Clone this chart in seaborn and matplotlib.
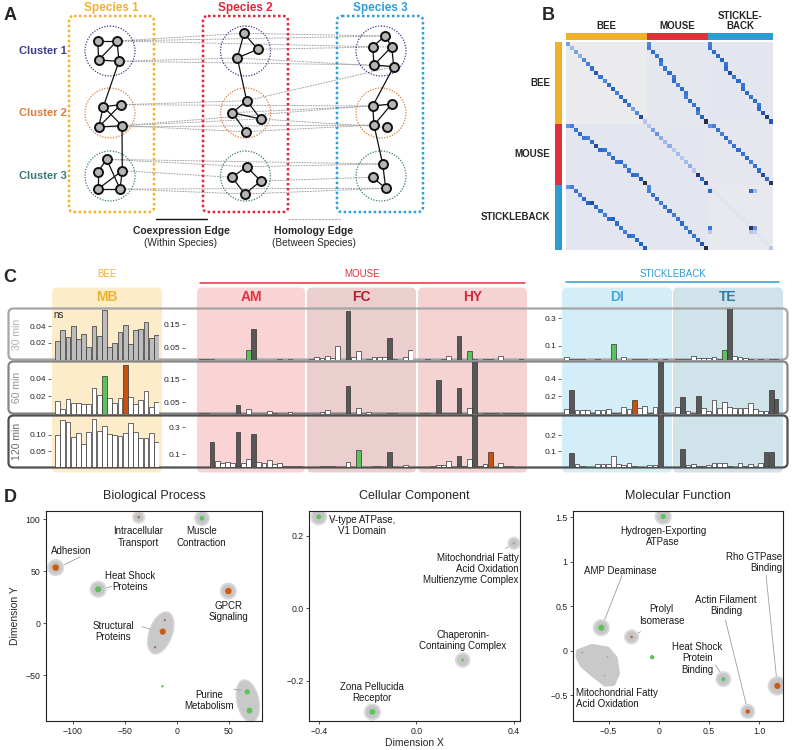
import numpy as np
import matplotlib
matplotlib.use("Agg")
import matplotlib.pyplot as plt
import seaborn as sns
from matplotlib.patches import FancyBboxPatch, Circle, Ellipse, Polygon
from matplotlib.colors import LinearSegmentedColormap

sns.set_style("white")
plt.rcParams['font.family'] = ['Liberation Sans', 'DejaVu Sans']
plt.rcParams['axes.unicode_minus'] = True

# ---------------- panel A : network sketch ----------------
species_names = ["Species 1", "Species 2", "Species 3"]
species_colors = ["#f2b327", "#e3263a", "#2f9fd8"]
cluster_names = ["Cluster 1", "Cluster 2", "Cluster 3"]
cluster_colors = ["#3c3c8c", "#df7a3a", "#3b7a73"]
cluster_cx = [110, 245.5, 381]
cluster_cy = [51, 113, 176]

# node positions per (species, cluster)
nodes = {
    (0, 0): [(97.7, 41), (117, 41), (98.7, 60), (119, 61.3)],
    (0, 1): [(103.3, 106.7), (120.7, 104.7), (98.7, 127), (122, 125.7)],
    (0, 2): [(106.7, 159.3), (98, 171.7), (98, 189), (120, 189), (122.3, 170.7)],
    (1, 0): [(244, 33.3), (257.7, 49.3), (237.3, 58)],
    (1, 1): [(246.7, 100.7), (232.3, 112.7), (260.7, 119), (245.7, 131.7)],
    (1, 2): [(246.7, 166.7), (232, 177.3), (260.7, 181), (245, 194)],
    (2, 0): [(385, 36), (372.7, 46.7), (391.7, 46.7), (374, 65), (393.7, 66.7)],
    (2, 1): [(372.7, 106), (391.7, 104), (374, 125), (386.7, 127.3)],
    (2, 2): [(382.7, 164), (372.7, 177.3), (385.7, 188.3)],
}
coexp_edges = {
    (0, 0): [(0, 1), (0, 2), (2, 3), (1, 3), (1, 2)],
    (0, 1): [(0, 1), (0, 2), (0, 3), (1, 2), (2, 3)],
    (0, 2): [(0, 1), (1, 2), (2, 3), (3, 4), (0, 3), (2, 4)],
    (1, 0): [(0, 1), (0, 2), (1, 2)],
    (1, 1): [(0, 1), (0, 2), (1, 2), (1, 3)],
    (1, 2): [(0, 1), (0, 2), (1, 3), (2, 3)],
    (2, 0): [(0, 1), (1, 3), (2, 3), (2, 4), (3, 4), (0, 2)],
    (2, 1): [(0, 2), (1, 2), (0, 1)],
    (2, 2): [(0, 2), (1, 2)],
}
link_edges = [((0, 0, 3), (0, 1, 0)), ((0, 1, 3), (0, 2, 4)), ((1, 0, 2), (1, 1, 0)),
              ((2, 0, 4), (2, 1, 0)), ((2, 1, 2), (2, 2, 0))]
homology_edges = [
    ((0, 0, 1), (1, 0, 0)), ((0, 0, 1), (2, 0, 0)), ((0, 0, 1), (2, 0, 1)),
    ((0, 0, 3), (1, 0, 2)), ((0, 0, 3), (2, 0, 3)), ((1, 0, 0), (2, 0, 0)),
    ((1, 0, 1), (2, 0, 2)), ((1, 0, 2), (2, 0, 4)), ((1, 1, 0), (2, 0, 4)),
    ((0, 1, 1), (1, 1, 0)), ((0, 1, 1), (2, 1, 0)), ((0, 1, 3), (1, 1, 2)),
    ((0, 1, 3), (2, 1, 1)), ((0, 1, 3), (1, 1, 3)), ((0, 1, 2), (2, 1, 2)),
    ((1, 1, 1), (2, 1, 0)), ((1, 1, 2), (2, 1, 3)), ((1, 1, 3), (2, 1, 2)),
    ((0, 2, 0), (1, 2, 0)), ((0, 2, 0), (2, 2, 0)), ((0, 2, 4), (1, 2, 1)),
    ((0, 2, 3), (1, 2, 3)), ((0, 2, 3), (2, 2, 2)), ((1, 2, 0), (2, 2, 0)),
    ((1, 2, 2), (2, 2, 1)), ((1, 2, 3), (2, 2, 2)),
]

# ---------------- panel B : cluster similarity heatmap ----------------
block_names = ["BEE", "MOUSE", "STICKLEBACK"]
block_sizes = [20, 15, 16]
block_colors = ["#efb02a", "#de3139", "#2f9bd3"]
block_background = [[0.0, 0.06, 0.07], [0.07, 0.07, 0.05], [0.07, 0.07, 0.03]]
diag_values = [
    [[0.45, 0.35, 0.45, 0.4, 0.55, 0.6, 0.7, 0.8, 0.65, 0.55, 0.7, 0.75, 0.6, 0.7, 0.75, 0.65, 0.45, 0.55, 0.85, 0.3],
     [0.55, 0.6, 0.7, 0.65, 0.7, 0.6, 0.65, 0.7, 0.65, 0.7, 0.6, 0.7, 0.65, 0.6, 0.7, 0.65, 0.7, 0.6, 0.75, 1.0],
     [0.6, 0.65, 0.7, 0.7, 0.75, 0.65, 0.7, 0.85, 0.65, 0.7, 0.65, 0.7, 0.7, 0.65, 0.7, 0.65, 0.7, 0.8, 0.9, 0.8]],
    [[0.5, 0.6, 0.65, 0.7, 0.65, 0.6, 0.7, 0.85, 0.7, 0.65, 0.6, 0.7, 0.65, 0.7, 0.6, 0.65, 0.7, 0.65, 0.8, 1.0],
     [0.3, 0.45, 0.5, 0.4, 0.35, 0.4, 0.3, 0.35, 0.3, 0.35, 0.4, 0.3, 0.95, 0.7, 0.9],
     [0.5, 0.6, 0.65, 0.6, 0.7, 0.6, 0.65, 0.7, 0.65, 0.7, 0.6, 0.65, 0.7, 0.85, 0.7, 0.95]],
    [[0.5, 0.6, 0.65, 0.6, 0.7, 0.75, 0.85, 0.7, 0.65, 0.6, 0.7, 0.75, 0.7, 0.65, 0.6, 0.7, 0.65, 0.7, 0.75, 0.8],
     [0.55, 0.6, 0.65, 0.7, 0.6, 0.65, 0.7, 0.6, 0.65, 0.7, 0.6, 0.7, 0.65, 0.7, 0.8, 1.0],
     [0.12, 0.1, 0.1, 0.1, 0.1, 0.1, 0.1, 0.1, 0.1, 0.1, 0.1, 0.1, 0.1, 0.1, 0.1, 0.3]],
]
stickle_spots = [(1, 0, 0.7), (1, 10, 0.7), (1, 11, 0.35), (10, 0, 0.65), (10, 10, 0.95),
                 (10, 11, 0.5), (11, 0, 0.3), (11, 10, 0.3), (11, 11, 0.25)]

# ---------------- panel C : enrichment bars ----------------
tissues = ["MB", "AM", "FC", "HY", "DI", "TE"]
tissue_species = [0, 1, 1, 1, 2, 2]
tissue_text_colors = ["#efb22f", "#e2323c", "#b3202b", "#d02c40", "#43aade", "#2f7cab"]
tissue_bg_colors = ["#fcecca", "#fad4d4", "#ebcfcf", "#f6d3d3", "#d4eef9", "#d0e2ea"]
times = ["30 min", "60 min", "120 min"]

values = {
    "MB": [[0.022, 0.035, 0.027, 0.040, 0.025, 0.030, 0.0144, 0.040, 0.028, 0.059, 0.0144, 0.0196, 0.033, 0.041, 0.018, 0.035, 0.036, 0.045, 0.026, 0.029],
           [0.0146, 0.005, 0.017, 0.0123, 0.0123, 0.011, 0.011, 0.029, 0.021, 0.043, 0.0177, 0.0115, 0.018, 0.056, 0.019, 0.011, 0.015, 0.026, 0.008, 0.0135],
           [0.100, 0.146, 0.140, 0.095, 0.105, 0.071, 0.110, 0.150, 0.112, 0.127, 0.102, 0.100, 0.097, 0.106, 0.136, 0.108, 0.091, 0.091, 0.106, 0.078]],
    "AM": [[0.002, 0.004, 0.002, 0, 0, 0, 0, 0, 0, 0.040, 0.131, 0, 0, 0, 0, 0.003, 0, 0.003, 0, 0],
           [0.002, 0.004, 0, 0, 0, 0, 0, 0.037, 0, 0.018, 0, 0, 0, 0.010, 0.004, 0, 0, 0.005, 0, 0],
           [0.004, 0.006, 0.187, 0.048, 0.030, 0.040, 0.030, 0.267, 0.032, 0.062, 0.247, 0.042, 0.035, 0.055, 0.027, 0.030, 0.010, 0.010, 0.010, 0.010]],
    "FC": [[0.002, 0.012, 0.006, 0.015, 0.008, 0.056, 0, 0.208, 0.010, 0.037, 0, 0.004, 0.010, 0.012, 0.011, 0.093, 0.003, 0, 0.010, 0.040],
           [0, 0, 0.008, 0.015, 0, 0, 0, 0.120, 0, 0.022, 0, 0.008, 0, 0, 0, 0.003, 0.003, 0, 0, 0],
           [0, 0, 0.012, 0.010, 0.008, 0, 0, 0.040, 0, 0.130, 0, 0, 0.010, 0.010, 0, 0.112, 0, 0, 0.015, 0.004]],
    "HY": [[0, 0.002, 0, 0, 0.003, 0.014, 0, 0.100, 0, 0.038, 0.003, 0, 0.004, 0.004, 0, 0.016, 0, 0, 0, 0.002],
           [0.003, 0.003, 0, 0.147, 0.003, 0.004, 0.004, 0.112, 0, 0.022, 0.230, 0, 0.003, 0.003, 0.003, 0, 0.003, 0.003, 0.003, 0.002],
           [0.003, 0.005, 0.010, 0.015, 0.020, 0.047, 0, 0.088, 0.010, 0.062, 0.400, 0.012, 0.025, 0.112, 0, 0.037, 0.008, 0.008, 0.006, 0.004]],
    "DI": [[0.020, 0.003, 0.003, 0.005, 0, 0, 0.002, 0, 0, 0.117, 0, 0.020, 0, 0.003, 0.003, 0.003, 0, 0.003, 0, 0.003],
           [0.050, 0.270, 0.040, 0.040, 0.040, 0.010, 0.040, 0.040, 0.050, 0.010, 0.005, 0.080, 0.050, 0.160, 0.060, 0.090, 0.010, 0.080, 0.600, 0.010],
           [0.005, 0.090, 0.020, 0.010, 0.003, 0.003, 0.020, 0.020, 0.020, 0.070, 0.020, 0.016, 0.025, 0.010, 0.003, 0.003, 0.017, 0.017, 0.340, 0.003]],
    "TE": [[0.003, 0.003, 0.005, 0.025, 0.008, 0.010, 0.008, 0.020, 0.005, 0.073, 0.380, 0.022, 0.020, 0.008, 0.003, 0, 0.002, 0, 0.003, 0.003],
           [0.070, 0.190, 0.030, 0.005, 0.200, 0.060, 0.030, 0.155, 0.060, 0.130, 0.070, 0.065, 0.060, 0.060, 0.120, 0.050, 0.030, 0.030, 0.270, 0.170],
           [0.003, 0.115, 0.015, 0.020, 0.010, 0.010, 0.015, 0.025, 0.025, 0.025, 0.010, 0.003, 0.025, 0.010, 0.020, 0.005, 0.025, 0.097, 0.097, 0.003]],
}
# n = not significant (grey), w = white, d = significant, g = green, o = orange
bar_codes = {
    "MB": ["nnnnnnnnnnnnnnnnnnnn", "wwwwwwwwwgwwwowwwwww", "wwwwwwwwwwwwwwwwwwww"],
    "AM": ["wwwwwwwwwgdwwwwwwwww", "wwwwwwwdwwwwwwwwwwww", "wwdwwwwdwwdwwwwwwwww"],
    "FC": ["wwwwwwwdwwwwwwwdwwww", "wwwwwwwdwwwwwwwwwwww", "wwwwwwwwwgwwwwwdwwww"],
    "HY": ["wwwwwwwdwgwwwwwwwwww", "wwwdwwwdwwdwwwwwwwww", "wwwwwwwdwwdwwowwwwww"],
    "DI": ["wwwwwwwwwgwwwwwwwwww", "wdwwwwwwwwwwwowwwwdw", "wdwwwwwwwwwwwwwwwwdw"],
    "TE": ["wwwwwwwwwgdwwwwwwwww", "wdwwdwwwwwwwwwwwwwdd", "wdwwwwwwwwwwwwwwwddw"],
}
bar_palette = {"n": "#bdbdbd", "w": "#ffffff", "d": "#575757", "g": "#5cc35c", "o": "#c9500e"}
row_ymax = [[0.061, 0.0595, 0.160], [0.218, 0.227, 0.386], [0.373, 0.595, 0.3225]]
row_ticks = [[[0.02, 0.04], [0.02, 0.04], [0.05, 0.10]],
             [[0.05, 0.15], [0.05, 0.15], [0.1, 0.3]],
             [[0.1, 0.3], [0.2, 0.4], [0.1, 0.2]]]
row_ticklabels = [[["0.02", "0.04"], ["0.02", "0.04"], ["0.05", "0.10"]],
                  [["0.05", "0.15"], ["0.05", "0.15"], ["0.1", "0.3"]],
                  [["0.1", "0.3"], ["0.2", "0.4"], ["0.1", "0.2"]]]

# ---------------- panel D : GO term maps ----------------
go_titles = ["Biological Process", "Cellular Component", "Molecular Function"]
dot_palette = {"g": "#5cc35c", "o": "#cf5a12", "b": "#a8765a", "k": "#a5a5a5"}

bp_halo_x = [-36.8, 24.2, -116.7, -75.8, 49.6]
bp_halo_y = [102, 101, 53.6, 32.7, 31]
bp_halo_s = [65, 100, 120, 120, 120]
bp_dot_x = [-36.8, 24.2, -116.7, -75.8, 49.6, -13.6, -11.6, -21.0, -13.9, 67.8, 70.0]
bp_dot_y = [102, 101, 53.6, 32.7, 31, -8, 3, -23, -60.6, -66, -84]
bp_dot_c = ["b", "g", "o", "g", "o", "o", "b", "b", "g", "g", "g"]
bp_dot_s = [4, 12, 22, 20, 22, 20, 3, 3, 3, 14, 18]
bp_groups = [(-15.5, -9.3, 22, 42, -20), (68.3, -74.7, 21, 41, 12)]
bp_labels = [("Intracellular\nTransport", -37, 83, "center"), ("Muscle\nContraction", 24, 83, "center"),
             ("Adhesion", -102, 70, "center"), ("Heat Shock\nProteins", -44.6, 40.4, "center"),
             ("GPCR\nSignaling", 49.6, 11, "center"), ("Structural\nProteins", -61.3, -8, "center"),
             ("Purine\nMetabolism", 31.5, -74.3, "center")]
bp_leaders = [((-93, 64), (-109, 56)), ((-62.9, 35.6), (-70, 33)), ((-33.7, -3.2), (-25.6, -5.8)),
              ((54.8, -63.4), (61.3, -64.4))]

cc_halo_x = [-0.40, 0.40, 0.19, -0.18]
cc_halo_y = [0.252, 0.179, -0.143, -0.286]
cc_halo_s = [120, 65, 95, 120]
cc_dot_x = [-0.40, 0.40, 0.19, -0.18]
cc_dot_y = [0.252, 0.179, -0.143, -0.286]
cc_dot_c = ["g", "k", "g", "g"]
cc_dot_s = [12, 3, 4, 18]
cc_labels = [("V-type ATPase,\nV1 Domain", -0.222, 0.229, "center"),
             ("Mitochondrial Fatty\nAcid Oxidation\nMultienzyme Complex", 0.42, 0.108, "right"),
             ("Chaperonin-\nContaining Complex", 0.19, -0.09, "center"),
             ("Zona Pellucida\nReceptor", -0.18, -0.232, "center")]
cc_leaders = [((-0.355, 0.248), (-0.333, 0.243)), ((0.366, 0.164), (0.392, 0.176))]

mf_halo_x = [0.044, -0.572, -0.271, 0.643, 0.885, 1.18]
mf_halo_y = [1.51, 0.258, 0.154, -0.321, -0.685, -0.397]
mf_halo_s = [120, 120, 90, 100, 90, 160]
mf_dot_x = [0.044, -0.572, -0.271, -0.066, 0.643, 0.885, 1.18, -0.76, -0.51, -0.54]
mf_dot_y = [1.51, 0.258, 0.154, -0.074, -0.321, -0.685, -0.397, -0.02, -0.07, -0.28]
mf_dot_c = ["g", "g", "b", "g", "g", "o", "o", "k", "k", "k"]
mf_dot_s = [14, 20, 4, 10, 8, 10, 20, 2, 2, 2]
mf_blob = [(-0.795, -0.011), (-0.662, 0.045), (-0.513, 0.015), (-0.437, -0.086), (-0.414, -0.254),
           (-0.457, -0.367), (-0.530, -0.374), (-0.646, -0.273), (-0.761, -0.161), (-0.801, -0.067)]
mf_labels = [("Hydrogen-Exporting\nATPase", 0.044, 1.28, "center"), ("AMP Deaminase", -0.38, 0.9, "center"),
             ("Prolyl\nIsomerase", 0.027, 0.40, "center"), ("Actin Filament\nBinding", 0.67, 0.51, "center"),
             ("Rho GTPase\nBinding", 1.226, 0.99, "right"), ("Heat Shock\nProtein\nBinding", 0.385, -0.088, "center"),
             ("Mitochondrial Fatty\nAcid Oxidation", -0.82, -0.54, "left")]
mf_leaders = [((-0.364, 0.85), (-0.553, 0.308)), ((-0.182, 0.213), (-0.248, 0.165)),
              ((0.663, 0.345), (0.879, -0.647)), ((1.067, 0.851), (1.177, -0.366)),
              ((0.564, -0.161), (0.63, -0.273))]

# =====================================================================
W, H = 793, 750
fig = plt.figure(figsize=(W / 100, H / 100), dpi=100)


def px_axes(x0, y0, x1, y1, z=1):
    return fig.add_axes([x0 / W, 1 - y1 / H, (x1 - x0) / W, (y1 - y0) / H], zorder=z)


canvas = fig.add_axes([0, 0, 1, 1], zorder=0)
canvas.set_xlim(0, W)
canvas.set_ylim(H, 0)
canvas.axis("off")

for lab, x, y in [("A", 10, 15), ("B", 548, 15), ("C", 10, 278), ("D", 10, 497)]:
    canvas.text(x, y, lab, fontsize=13, fontweight="bold", ha="center", va="center")

# ---- panel A
box_x = [(69, 154), (203, 288), (337, 423)]
for s in range(3):
    x0, x1 = box_x[s]
    canvas.add_patch(FancyBboxPatch((x0, 16), x1 - x0, 196, boxstyle="round,pad=0,rounding_size=5",
                                    fill=False, ec=species_colors[s], lw=1.8, ls=(0, (1, 1)), zorder=2))
    canvas.text((x0 + x1) / 2, 8, species_names[s], color=species_colors[s], fontsize=8.5,
                fontweight="bold", ha="center", va="center")
    for c in range(3):
        canvas.add_patch(Circle((cluster_cx[s], cluster_cy[c]), 25, fill=False, ec=cluster_colors[c],
                                lw=0.9, ls=(0, (1, 1.2)), zorder=2))
for c in range(3):
    canvas.text(43, cluster_cy[c], cluster_names[c], color=cluster_colors[c], fontsize=8,
                fontweight="bold", ha="center", va="center")

for a, b in homology_edges:
    pa = nodes[a[:2]][a[2]]
    pb = nodes[b[:2]][b[2]]
    canvas.plot([pa[0], pb[0]], [pa[1], pb[1]], color="#a0a0a0", lw=0.65, ls=(0, (2, 1)), zorder=1)
for key, pairs in coexp_edges.items():
    pts = nodes[key]
    for i, j in pairs:
        canvas.plot([pts[i][0], pts[j][0]], [pts[i][1], pts[j][1]], color="#111111", lw=0.9, zorder=3)
for a, b in link_edges:
    pa = nodes[a[:2]][a[2]]
    pb = nodes[b[:2]][b[2]]
    canvas.plot([pa[0], pb[0]], [pa[1], pb[1]], color="#111111", lw=0.9, zorder=3)
for key, pts in nodes.items():
    canvas.scatter([p[0] for p in pts], [p[1] for p in pts], s=42, color="#b5b5b5",
                   edgecolor="#111111", linewidth=1.4, zorder=4)

canvas.plot([155.7, 206.7], [219, 219], color="#111111", lw=1)
canvas.plot([288, 340], [219, 219], color="#a8a8a8", lw=0.8, ls=(0, (2, 1)))
canvas.text(181, 231, "Coexpression Edge", fontsize=7.5, fontweight="bold", ha="center", va="center")
canvas.text(181, 242.5, "(Within Species)", fontsize=7.2, ha="center", va="center")
canvas.text(314, 231, "Homology Edge", fontsize=7.5, fontweight="bold", ha="center", va="center")
canvas.text(314, 242.5, "(Between Species)", fontsize=7.2, ha="center", va="center")

# ---- panel B
starts = np.cumsum([0] + block_sizes)
n_all = starts[-1]
mat = np.zeros((n_all, n_all))
for i in range(3):
    for j in range(3):
        nr, nc = block_sizes[i], block_sizes[j]
        mat[starts[i]:starts[i + 1], starts[j]:starts[j + 1]] = block_background[i][j]
        vals = diag_values[i][j]
        for k, v in enumerate(vals):
            mat[starts[i] + k * nr // len(vals), starts[j] + k * nc // len(vals)] = v
for r, c, v in stickle_spots:
    mat[starts[2] + r, starts[2] + c] = v

hm_cmap = LinearSegmentedColormap.from_list(
    "hm", [(0, "#ebebed"), (0.12, "#dde2f0"), (0.3, "#b6c7ec"), (0.55, "#4f86dd"),
           (0.75, "#2264c7"), (0.88, "#25428c"), (1.0, "#2c2e40")])
hx0, hy0, hx1, hy1 = 566, 42, 773, 250
hm_ax = px_axes(hx0, hy0, hx1, hy1)
sns.heatmap(mat, ax=hm_ax, cmap=hm_cmap, vmin=0, vmax=1, cbar=False,
            xticklabels=False, yticklabels=False)
cw = (hx1 - hx0) / n_all
ch = (hy1 - hy0) / n_all
top_labels = ["BEE", "MOUSE", "STICKLE-\nBACK"]
for i in range(3):
    xa, xb = hx0 + starts[i] * cw, hx0 + starts[i + 1] * cw
    ya, yb = hy0 + starts[i] * ch, hy0 + starts[i + 1] * ch
    canvas.add_patch(plt.Rectangle((xa, 33), xb - xa, 7, color=block_colors[i], lw=0))
    canvas.add_patch(plt.Rectangle((555, ya), 7, yb - ya, color=block_colors[i], lw=0))
    canvas.text((xa + xb) / 2, 26 if i < 2 else 21, top_labels[i], fontsize=7, fontweight="bold",
                ha="center", va="center", linespacing=1.1)
    canvas.text(550, (ya + yb) / 2, block_names[i], fontsize=7, fontweight="bold", ha="right", va="center")

# ---- panel C
tissue_span = [(52, 162), (197, 305), (307, 416), (418, 527), (562, 672), (673, 783)]
bar_span = [(55, 159), (199, 303), (309, 413), (420, 524), (564, 668), (675, 779)]
row_span = [(308.5, 359.5), (361.5, 413.5), (415.5, 467.5)]
row_label_colors = ["#b0b0b0", "#939393", "#6a6a6a"]
row_edge_colors = ["#a5a5a5", "#858585", "#505050"]
tick_offset = [3, 10, 2]

for t, (x0, x1) in enumerate(tissue_span):
    canvas.add_patch(FancyBboxPatch((x0, 287.5), x1 - x0, 185, boxstyle="round,pad=0,rounding_size=5",
                                    fc=tissue_bg_colors[t], ec="none", zorder=1))
    canvas.text((x0 + x1) / 2, 297, tissues[t], color=tissue_text_colors[t], fontsize=10,
                fontweight="bold", ha="center", va="center", zorder=3)
for r, (y0, y1) in enumerate(row_span):
    canvas.add_patch(FancyBboxPatch((8.5, y0), 779, y1 - y0, boxstyle="round,pad=0,rounding_size=5",
                                    fill=False, ec=row_edge_colors[r], lw=1.6, zorder=2))
    canvas.text(17, (y0 + y1) / 2, times[r], rotation=90, color=row_label_colors[r], fontsize=7.5,
                ha="center", va="center")

canvas.text(107, 274, "BEE", color="#efb22f", fontsize=7, ha="center", va="center")
canvas.text(362, 274, "MOUSE", color="#e2323c", fontsize=7, ha="center", va="center")
canvas.plot([200, 525], [283.3, 283.3], color="#e2323c", lw=1.1)
canvas.text(673, 274, "STICKLEBACK", color="#2f9bd3", fontsize=7, ha="center", va="center")
canvas.plot([566, 779], [282.3, 282.3], color="#2f9bd3", lw=1.1)
canvas.text(53, 314.5, "ns", fontsize=7, ha="left", va="center")

first_of_species = [0, 1, 4]
for t, name in enumerate(tissues):
    sp = tissue_species[t]
    for r in range(3):
        y0, y1 = row_span[r]
        ax = px_axes(bar_span[t][0], y0, bar_span[t][1], y1, z=2)
        ax.patch.set_alpha(0)
        vals = values[name][r]
        codes = bar_codes[name][r]
        keys = [f"{name}{i:02d}" for i in range(len(vals))]
        sns.barplot(x=keys, y=vals, hue=keys, legend=False, ax=ax, width=0.92, saturation=1,
                    palette={k: bar_palette[c] for k, c in zip(keys, codes)},
                    edgecolor="#333333", linewidth=0.5)
        ax.set_xlim(-0.5, len(vals) - 0.5)
        ax.set_ylim(0, row_ymax[sp][r])
        ax.set_xticks([])
        ax.set_xlabel("")
        ax.set_ylabel("")
        for side in ax.spines.values():
            side.set_visible(False)
        if t in first_of_species:
            ax.spines["left"].set_position(("outward", tick_offset[sp]))
            ax.set_yticks(row_ticks[sp][r])
            ax.set_yticklabels(row_ticklabels[sp][r])
            ax.tick_params(axis="y", left=True, length=2, width=0.6, pad=1.5, labelsize=6, color="#555555")
        else:
            ax.set_yticks([])

# ---- panel D
d_boxes = [(46, 511, 262, 721), (309, 511, 520, 721), (573, 511, 783, 721)]
d_limits = [((-126, 82), (-94, 108)), ((-0.44, 0.425), (-0.311, 0.268)), ((-0.854, 1.236), (-0.792, 1.571))]
d_xticks = [([-100, -50, 0, 50], ["\u2212100", "\u221250", "0", "50"]),
            ([-0.4, 0.0, 0.4], ["\u22120.4", "0.0", "0.4"]),
            ([-0.5, 0, 0.5, 1.0], ["\u22120.5", "0", "0.5", "1.0"])]
d_yticks = [([-50, 0, 50, 100], ["\u221250", "0", "50", "100"]),
            ([-0.2, 0.0, 0.2], ["\u22120.2", "0.0", "0.2"]),
            ([-0.5, 0, 0.5, 1, 1.5], ["\u22120.5", "0", "0.5", "1", "1.5"])]
d_halos = [(bp_halo_x, bp_halo_y, bp_halo_s), (cc_halo_x, cc_halo_y, cc_halo_s), (mf_halo_x, mf_halo_y, mf_halo_s)]
d_dots = [(bp_dot_x, bp_dot_y, bp_dot_c, bp_dot_s), (cc_dot_x, cc_dot_y, cc_dot_c, cc_dot_s),
          (mf_dot_x, mf_dot_y, mf_dot_c, mf_dot_s)]
d_labels = [bp_labels, cc_labels, mf_labels]
d_leaders = [bp_leaders, cc_leaders, mf_leaders]

for p in range(3):
    x0, y0, x1, y1 = d_boxes[p]
    ax = px_axes(x0, y0, x1, y1)
    ax.set_facecolor("white")
    canvas.text((x0 + x1) / 2, 496, go_titles[p], fontsize=9, ha="center", va="center")
    if p == 0:
        for cx, cy, w, h, ang in bp_groups:
            ax.add_patch(Ellipse((cx, cy), w, h, angle=ang, fc="#c9c9c9", ec="#d6d6d6", lw=1, zorder=1))
    if p == 2:
        ax.add_patch(Polygon(mf_blob, closed=True, fc="#c9c9c9", ec="#c9c9c9", lw=4,
                             joinstyle="round", zorder=1))
    for (ax0, ay0), (ax1, ay1) in d_leaders[p]:
        ax.plot([ax0, ax1], [ay0, ay1], color="#a0a0a0", lw=0.6, zorder=1.5)
    hx, hy, hs = d_halos[p]
    sns.scatterplot(x=hx, y=hy, s=np.array(hs), color="#c6c6c6", edgecolor="#dadada", linewidth=1.4,
                    ax=ax, zorder=2, legend=False)
    dx, dy, dc, ds = d_dots[p]
    sns.scatterplot(x=dx, y=dy, hue=dc, palette=dot_palette, s=np.array(ds), linewidth=0,
                    ax=ax, zorder=3, legend=False)
    for txt, tx, ty, ha in d_labels[p]:
        ax.text(tx, ty, txt, fontsize=7, ha=ha, va="center", linespacing=1.15, color="#1a1a1a", zorder=4)
    ax.set_xlim(*d_limits[p][0])
    ax.set_ylim(*d_limits[p][1])
    ax.set_xticks(d_xticks[p][0])
    ax.set_xticklabels(d_xticks[p][1])
    ax.set_yticks(d_yticks[p][0])
    ax.set_yticklabels(d_yticks[p][1])
    ax.tick_params(axis="both", bottom=True, left=True, length=2, width=0.6, pad=2, labelsize=6.3,
                   color="#333333", labelcolor="#222222")
    for side in ax.spines.values():
        side.set_color("#222222")
        side.set_linewidth(0.8)
    ax.set_xlabel("")
    ax.set_ylabel("")
    if p == 0:
        ax.set_ylabel("Dimension Y", fontsize=7.5, labelpad=4)
    if p == 1:
        ax.set_xlabel("Dimension X", fontsize=7.5, labelpad=2)

fig.savefig("out.png", dpi=100)
